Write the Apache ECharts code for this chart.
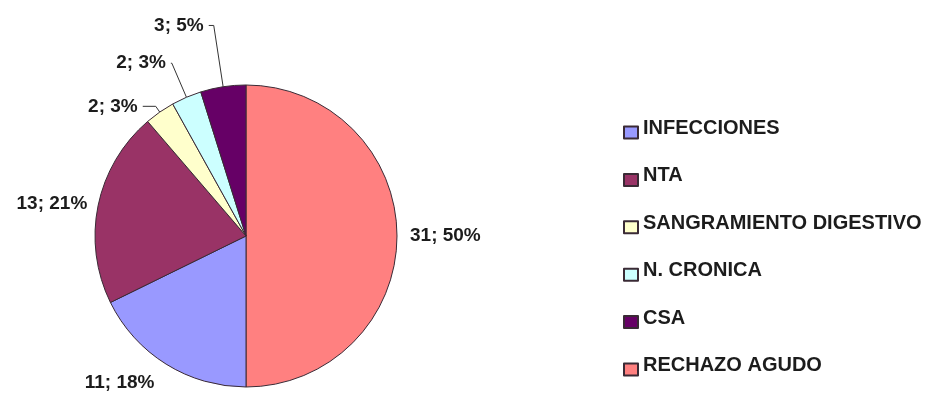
<!DOCTYPE html>
<html>
<head>
<meta charset="utf-8">
<title>Causas</title>
<script src="https://cdn.jsdelivr.net/npm/echarts@6/dist/echarts.min.js"></script>
<style>
  html, body { margin: 0; padding: 0; background: #ffffff; }
  #chart { width: 934px; height: 394px; }
</style>
</head>
<body>
<div id="chart"></div>
<script>
// Slice order follows the drawing order, clockwise from 12 o'clock
const categories = ['RECHAZO AGUDO', 'INFECCIONES', 'NTA', 'SANGRAMIENTO DIGESTIVO', 'N. CRONICA', 'CSA'];
const counts = [31, 11, 13, 2, 2, 3];
const colors = ['#FF8080', '#9999FF', '#993366', '#FFFFCC', '#CCFFFF', '#660066'];
// Legend lists the causes in this order
const legendOrder = ['INFECCIONES', 'NTA', 'SANGRAMIENTO DIGESTIVO', 'N. CRONICA', 'CSA', 'RECHAZO AGUDO'];

// Per-slice leader lines: [show, length, length2, gap to text]
const leaders = [
  [false, 8, 0, 5],
  [false, 22, 0, 0],
  [false, 10, 0, 1],
  [true, 7, 13, 5],
  [true, 37, 1, 5],
  [true, 62, 5, 5]
];

const FONT = '"Liberation Sans", Arial, Helvetica, sans-serif';

const data = categories.map((name, i) => ({
  name: name,
  value: counts[i],
  itemStyle: { color: colors[i] },
  label: { distanceToLabelLine: leaders[i][3] },
  labelLine: { show: leaders[i][0], length: leaders[i][1], length2: leaders[i][2] }
}));

const chart = echarts.init(document.getElementById('chart'), null, { renderer: 'canvas' });
chart.setOption({
  animation: false,
  backgroundColor: '#ffffff',
  legend: {
    orient: 'vertical',
    left: 618,
    top: 113.5,
    data: legendOrder,
    icon: 'rect',
    itemWidth: 14,
    itemHeight: 12,
    itemGap: 19.4,
    selectedMode: false,
    formatter: name => '{t|' + name + '}',
    textStyle: {
      fontFamily: FONT,
      fontSize: 20,
      fontWeight: 'bold',
      color: '#1c1c1c',
      rich: {
        t: {
          fontFamily: FONT,
          fontSize: 20,
          fontWeight: 'bold',
          color: '#1c1c1c',
          lineHeight: 20,
          padding: [0, 0, 8, 0]
        }
      }
    }
  },
  series: [{
    type: 'pie',
    center: [246, 236],
    radius: 151,
    startAngle: 90,
    clockwise: true,
    avoidLabelOverlap: false,
    percentPrecision: 0,
    silent: true,
    emphasis: { disabled: true },
    itemStyle: { borderColor: '#3a2a35', borderWidth: 1 },
    label: {
      show: true,
      position: 'outside',
      fontFamily: FONT,
      fontSize: 19,
      fontWeight: 'bold',
      color: '#1c1c1c',
      formatter: p => p.value + '; ' + Math.round(p.percent) + '%'
    },
    labelLine: {
      lineStyle: { color: '#333333', width: 1 }
    },
    data: data
  }]
});
</script>
</body>
</html>
